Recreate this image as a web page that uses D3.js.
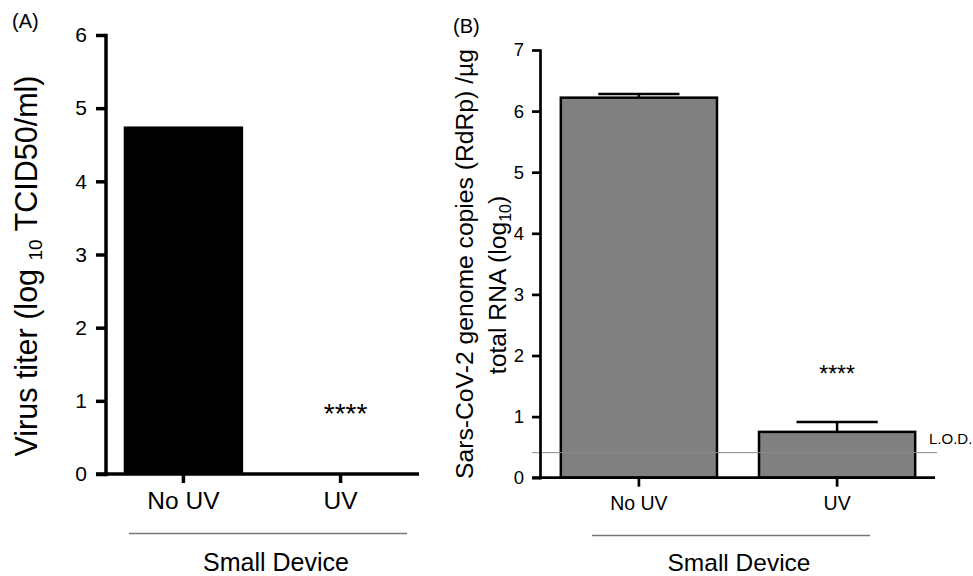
<!DOCTYPE html>
<html>
<head>
<meta charset="utf-8">
<script src="https://cdn.jsdelivr.net/npm/d3@7"></script>
<style>
  body { margin: 0; background: #fff; }
  svg text { font-family: "Liberation Sans", Arial, Helvetica, sans-serif; fill: #000; }
</style>
</head>
<body>
<svg id="chart" width="973" height="576"></svg>
<script>
// values
var groups = ["No UV", "UV"];
var titerA = [4.75, 0];          // log10 TCID50/ml
var rnaB = [6.22, 0.75];         // log10 genome copies / ug RNA
var rnaErrB = [0.06, 0.16];      // SD (upper whisker only)
var lodB = 0.41;                 // limit of detection
var ticksA = [0, 1, 2, 3, 4, 5, 6];
var ticksB = [0, 1, 2, 3, 4, 5, 6, 7];
var sigA = ["", "****"];
var sigB = ["", "****"];

var svg = d3.select("#chart");
var fmt = d3.format("d");

// ---------------- panel A ----------------
var xA = d3.scaleBand().domain(groups).range([108, 416]).paddingInner(0.24).paddingOuter(0.1);
var yA = d3.scaleLinear().domain([0, 6]).range([474, 35]);

var gA = svg.append("g");

gA.selectAll(".barA").data(titerA).enter().append("rect")
    .attr("class", "barA")
    .attr("x", function(d, i) { return xA(groups[i]); })
    .attr("y", function(d) { return yA(d); })
    .attr("width", xA.bandwidth())
    .attr("height", function(d) { return yA(0) - yA(d); })
    .attr("fill", "#000");

var yAxisA = gA.append("g")
    .attr("transform", "translate(105.5,0)")
    .call(d3.axisLeft(yA).tickValues(ticksA).tickFormat(fmt).tickSize(9.5).tickSizeOuter(0).tickPadding(9));
yAxisA.selectAll("path, line").attr("stroke", "#000").attr("stroke-width", 3.5);
yAxisA.select(".domain").attr("stroke-linecap", "square");
yAxisA.selectAll("text").attr("font-size", 21);

var xAxisA = gA.append("g")
    .attr("transform", "translate(0," + yA(0) + ")")
    .call(d3.axisBottom(xA).tickSize(9).tickSizeOuter(0).tickPadding(9));
xAxisA.select(".domain").remove();
xAxisA.selectAll("line").attr("stroke", "#000").attr("stroke-width", 3.5);
xAxisA.selectAll("text").attr("font-size", 24.5);
gA.append("line")
    .attr("x1", 96).attr("x2", 419)
    .attr("y1", yA(0)).attr("y2", yA(0))
    .attr("stroke", "#000").attr("stroke-width", 3.5);

gA.selectAll(".sigA").data(sigA).enter().append("text")
    .attr("class", "sigA")
    .attr("x", function(d, i) { return xA(groups[i]) + xA.bandwidth() / 2 + 5; })
    .attr("y", 423)
    .attr("text-anchor", "middle")
    .attr("font-size", 28)
    .text(function(d) { return d; });

gA.append("line")
    .attr("x1", 129).attr("x2", 407).attr("y1", 533.5).attr("y2", 533.5)
    .attr("stroke", "#777").attr("stroke-width", 1.5);
gA.append("text")
    .attr("x", 276).attr("y", 571)
    .attr("text-anchor", "middle").attr("font-size", 25)
    .text("Small Device");

var labA = gA.append("text")
    .attr("transform", "translate(37,266) rotate(-90)")
    .attr("text-anchor", "middle")
    .attr("font-size", 30.5);
labA.append("tspan").text("Virus titer (log ");
labA.append("tspan").attr("font-size", 19).attr("dy", 5).text("10");
labA.append("tspan").attr("dy", -5).text(" TCID50/ml)");

gA.append("text").attr("x", 12).attr("y", 28).attr("font-size", 20).text("(A)");

// ---------------- panel B ----------------
var xB = d3.scaleBand().domain(groups).range([541, 935]).paddingInner(0.212).paddingOuter(0.1);
var yB = d3.scaleLinear().domain([0, 7]).range([477.7, 50]);

var gB = svg.append("g");

gB.selectAll(".errB").data(rnaB).enter().append("path")
    .attr("class", "errB")
    .attr("d", function(d, i) {
        var cx = xB(groups[i]) + xB.bandwidth() / 2, hw = xB.bandwidth() * 0.26;
        return "M" + cx + "," + yB(d) + "V" + yB(d + rnaErrB[i]) +
               "M" + (cx - hw) + "," + yB(d + rnaErrB[i]) + "H" + (cx + hw);
    })
    .attr("fill", "none").attr("stroke", "#000").attr("stroke-width", 2.5);

gB.selectAll(".barB").data(rnaB).enter().append("rect")
    .attr("class", "barB")
    .attr("x", function(d, i) { return xB(groups[i]); })
    .attr("y", function(d) { return yB(d); })
    .attr("width", xB.bandwidth())
    .attr("height", function(d) { return yB(0) - yB(d); })
    .attr("fill", "#808080").attr("stroke", "#000").attr("stroke-width", 2.5);

// limit of detection, drawn over the bars
gB.append("line")
    .attr("x1", 532).attr("x2", 937)
    .attr("y1", yB(lodB)).attr("y2", yB(lodB))
    .attr("stroke", "#8a8a8a").attr("stroke-width", 1);

var yAxisB = gB.append("g")
    .attr("transform", "translate(540,0)")
    .call(d3.axisLeft(yB).tickValues(ticksB).tickFormat(fmt).tickSize(8).tickSizeOuter(0).tickPadding(8));
yAxisB.selectAll("path, line").attr("stroke", "#000").attr("stroke-width", 2.7);
yAxisB.select(".domain").attr("stroke-linecap", "square");
yAxisB.selectAll("text").attr("font-size", 18.5);

var xAxisB = gB.append("g")
    .attr("transform", "translate(0," + yB(0) + ")")
    .call(d3.axisBottom(xB).tickSize(9).tickSizeOuter(0).tickPadding(9));
xAxisB.select(".domain").remove();
xAxisB.selectAll("line").attr("stroke", "#000").attr("stroke-width", 2.7);
xAxisB.selectAll("text").attr("font-size", 19.5);
gB.append("line")
    .attr("x1", 532).attr("x2", 935)
    .attr("y1", yB(0)).attr("y2", yB(0))
    .attr("stroke", "#000").attr("stroke-width", 2.7);

gB.selectAll(".sigB").data(sigB).enter().append("text")
    .attr("class", "sigB")
    .attr("x", function(d, i) { return xB(groups[i]) + xB.bandwidth() / 2; })
    .attr("y", 382)
    .attr("text-anchor", "middle")
    .attr("font-size", 23)
    .text(function(d) { return d; });

gB.append("text")
    .attr("x", 929).attr("y", 444)
    .attr("font-size", 15)
    .text("L.O.D.");

gB.append("line")
    .attr("x1", 592).attr("x2", 870).attr("y1", 535.5).attr("y2", 535.5)
    .attr("stroke", "#777").attr("stroke-width", 1.5);
gB.append("text")
    .attr("x", 739).attr("y", 571)
    .attr("text-anchor", "middle").attr("font-size", 24.5)
    .text("Small Device");

gB.append("text")
    .attr("transform", "translate(473,264) rotate(-90)")
    .attr("text-anchor", "middle")
    .attr("font-size", 24.7)
    .text("Sars-CoV-2 genome copies (RdRp) /\u00b5g");
var labB2 = gB.append("text")
    .attr("transform", "translate(506,285) rotate(-90)")
    .attr("text-anchor", "middle")
    .attr("font-size", 24.7);
labB2.append("tspan").text("total RNA (log");
labB2.append("tspan").attr("font-size", 16).attr("dy", 5).text("10");
labB2.append("tspan").attr("dy", -5).text(")");

gB.append("text").attr("x", 453).attr("y", 33).attr("font-size", 20).text("(B)");
</script>
</body>
</html>
